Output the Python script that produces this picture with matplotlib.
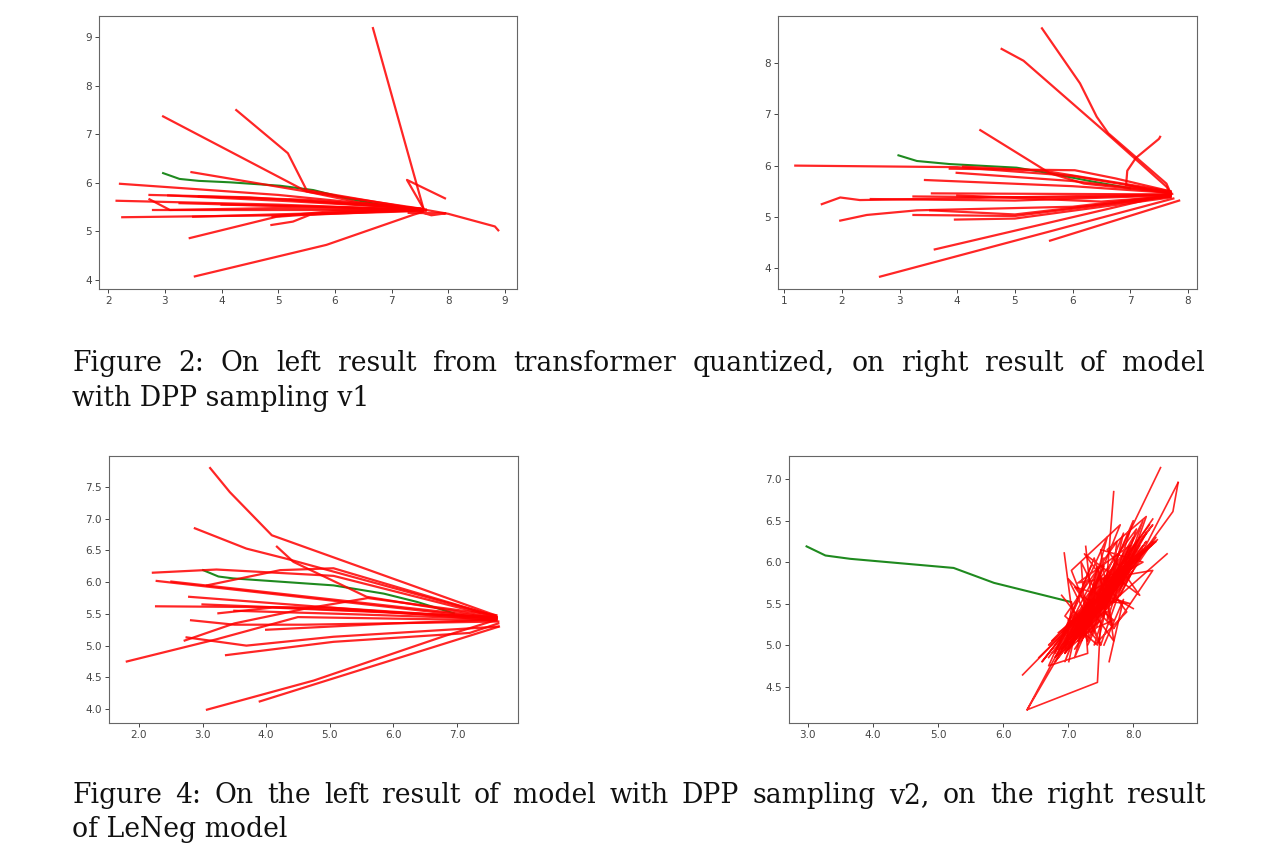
import matplotlib
matplotlib.use("Agg")
import matplotlib.pyplot as plt

W, H = 1280, 866

# ---------------- Panel 1: transformer quantized ----------------
p1_green_x = [2.97, 3.26, 3.6, 4.15, 5.03, 5.62, 6.20, 6.8, 7.38]
p1_green_y = [6.20, 6.08, 6.04, 6.01, 5.94, 5.85, 5.68, 5.55, 5.47]
p1_red_x = [
    [6.67, 7.56], [7.94, 7.27, 7.56], [7.61, 8.0, 8.82, 8.88],
    [7.3, 7.95, 7.7, 7.5], [3.53, 5.85, 7.38, 7.6], [3.44, 4.97, 6.2, 7.55],
    [4.88, 5.26, 5.56, 7.5], [2.97, 5.50, 6.4, 7.55], [4.26, 5.17, 5.50, 7.5],
    [3.47, 5.6, 7.5], [2.21, 5.0, 7.5], [2.15, 5.0, 7.55],
    [2.73, 3.09, 5.0, 7.5], [2.79, 7.6], [2.25, 5.0, 7.55],
    [3.50, 5.0, 7.5], [3.06, 5.2, 7.5], [2.73, 4.5, 7.55],
    [3.26, 5.8, 7.5], [4.9, 6.0, 7.5], [4.0, 6.0, 7.6],
    [5.2, 6.5, 7.5], [3.6, 5.5, 7.4],
]
p1_red_y = [
    [9.19, 5.47], [5.68, 6.06, 5.47], [5.44, 5.36, 5.10, 5.02],
    [5.38, 5.37, 5.33, 5.40], [4.07, 4.72, 5.34, 5.42], [4.86, 5.30, 5.40, 5.45],
    [5.13, 5.20, 5.34, 5.44], [7.37, 5.82, 5.6, 5.46], [7.50, 6.61, 5.85, 5.45],
    [6.22, 5.8, 5.47], [5.98, 5.75, 5.46], [5.63, 5.55, 5.44],
    [5.66, 5.44, 5.48, 5.45], [5.43, 5.43], [5.29, 5.33, 5.42],
    [5.30, 5.35, 5.43], [5.74, 5.62, 5.47], [5.75, 5.7, 5.46],
    [5.58, 5.5, 5.44], [5.30, 5.42, 5.43], [5.55, 5.5, 5.45],
    [5.65, 5.55, 5.45], [5.72, 5.65, 5.48],
]
p1_xticks = [2, 3, 4, 5, 6, 7, 8, 9]
p1_yticks = [4, 5, 6, 7, 8, 9]

# ---------------- Panel 2: DPP sampling v1 ----------------
p2_green_x = [2.98, 3.30, 3.87, 5.03, 5.61, 6.3, 7.0]
p2_green_y = [6.20, 6.09, 6.03, 5.96, 5.85, 5.70, 5.56]
p2_red_x = [
    [5.47, 6.13, 6.42, 6.62, 7.63, 7.7], [4.77, 5.15, 6.53, 7.63, 7.7],
    [7.52, 7.5, 7.1, 6.95, 6.93, 7.7], [4.40, 5.61, 6.2, 7.7],
    [1.19, 4.0, 6.0, 7.7], [3.87, 6.04, 6.75, 7.7], [3.44, 6.0, 7.7],
    [1.65, 1.97, 2.31, 3.3, 7.7], [1.97, 2.43, 3.30, 6.0, 7.7],
    [3.24, 5.0, 7.7], [3.96, 5.0, 7.7], [3.53, 5.0, 7.7],
    [3.61, 7.73], [2.66, 7.75], [5.61, 7.85], [3.56, 7.7],
    [3.24, 6.0, 7.7], [3.99, 6.0, 7.7], [4.10, 5.5, 7.7],
    [2.5, 5.0, 7.7], [4.0, 6.5, 7.7],
]
p2_red_y = [
    [8.67, 7.60, 6.95, 6.63, 5.65, 5.47], [8.27, 8.04, 6.69, 5.59, 5.46],
    [6.56, 6.52, 6.15, 5.9, 5.62, 5.45], [6.69, 5.85, 5.65, 5.47],
    [6.00, 5.97, 5.8, 5.48], [5.94, 5.91, 5.75, 5.5], [5.72, 5.6, 5.47],
    [5.25, 5.38, 5.33, 5.35, 5.44], [4.93, 5.04, 5.13, 5.2, 5.42],
    [5.04, 5.02, 5.4], [4.95, 4.97, 5.38], [5.13, 5.05, 5.4],
    [4.37, 5.45], [3.84, 5.36], [4.54, 5.32], [5.46, 5.44],
    [5.40, 5.38, 5.43], [5.86, 5.7, 5.48], [5.98, 5.9, 5.5],
    [5.35, 5.32, 5.42], [5.42, 5.3, 5.4],
]
p2_xticks = [1, 2, 3, 4, 5, 6, 7, 8]
p2_yticks = [4, 5, 6, 7, 8]

# ---------------- Panel 3: DPP sampling v2 ----------------
p3_green_x = [3.01, 3.25, 3.48, 5.06, 5.85, 6.37, 6.95]
p3_green_y = [6.19, 6.09, 6.06, 5.95, 5.82, 5.69, 5.51]
p3_red_x = [
    [3.12, 3.43, 4.09, 7.60], [2.88, 3.69, 4.32, 7.60], [4.17, 4.43, 5.58, 7.62],
    [2.22, 3.22, 5.06, 7.62], [3.07, 4.22, 5.06, 7.62], [2.28, 7.62],
    [2.51, 7.62], [2.79, 7.62], [2.27, 5.0, 7.62], [3.25, 4.1, 7.62],
    [2.82, 3.5, 4.6, 7.65], [2.72, 3.5, 4.6, 5.6, 7.62], [2.75, 3.69, 5.06, 7.65],
    [1.81, 3.22, 4.5, 7.62], [3.37, 5.06, 7.2, 7.65], [3.07, 4.75, 6.8, 7.6],
    [3.90, 7.66], [3.5, 5.2, 7.62], [4.0, 6.0, 7.62], [3.0, 5.5, 7.62],
]
p3_red_y = [
    [7.80, 7.42, 6.74, 5.48], [6.85, 6.53, 6.37, 5.47], [6.56, 6.32, 5.77, 5.44],
    [6.15, 6.20, 6.10, 5.45], [5.95, 6.19, 6.22, 5.46], [6.02, 5.42],
    [6.01, 5.44], [5.77, 5.40], [5.62, 5.60, 5.43], [5.51, 5.60, 5.45],
    [5.40, 5.33, 5.33, 5.38], [5.08, 5.35, 5.58, 5.75, 5.48], [5.13, 5.00, 5.14, 5.30],
    [4.75, 5.10, 5.45, 5.40], [4.85, 5.06, 5.20, 5.35], [3.99, 4.45, 5.15, 5.40],
    [4.12, 5.30], [5.55, 5.50, 5.42], [5.25, 5.35, 5.41], [5.65, 5.55, 5.44],
]
p3_xticks = [2, 3, 4, 5, 6, 7]
p3_yticks = [4.0, 4.5, 5.0, 5.5, 6.0, 6.5, 7.0, 7.5]

# ---------------- Panel 4: LeNeg ----------------
p4_green_x = [2.98, 3.27, 3.65, 5.24, 5.86, 7.04]
p4_green_y = [6.19, 6.08, 6.04, 5.93, 5.75, 5.52]
p4_red_x = [
    [7.05, 7.20, 7.62, 7.10, 7.85, 7.00, 7.45, 6.85, 7.95, 7.25, 7.70, 6.95, 7.55,
     7.15, 8.05, 7.30, 7.80, 6.90, 8.10, 7.40, 7.75, 7.05, 7.90, 7.20, 7.60, 6.80,
     7.50, 7.35, 8.20, 7.45, 7.95, 7.10, 7.65, 7.00, 7.85, 7.25, 8.00, 7.40, 7.70,
     6.95, 7.55, 7.15, 7.90, 7.30, 8.15, 7.50, 7.20, 7.80, 7.05, 7.65, 7.35, 8.05,
     7.25, 7.75, 6.90, 7.45, 7.85, 7.10, 7.60, 7.95, 7.30],
    [6.70, 7.35, 6.85, 7.50, 7.00, 7.65, 7.10, 7.80, 7.20, 7.95, 7.30, 8.10, 7.15,
     7.70, 6.95, 7.45, 6.80, 7.25, 7.05, 7.60, 7.40, 8.00, 7.55, 8.20, 7.35, 7.85,
     7.15, 7.55, 6.90, 7.30, 7.10, 7.75, 7.45, 8.05, 7.60, 8.15, 7.25, 7.65, 7.00,
     7.40, 6.75, 7.20, 7.50, 7.90, 7.35, 7.70, 7.05, 7.45],
    [6.60, 7.15, 6.95, 7.40, 7.10, 7.55, 6.85, 7.30, 7.20, 7.70, 7.45, 7.90, 7.60,
     8.05, 7.35, 7.80, 7.15, 7.50, 7.00, 7.35, 6.90, 7.25, 7.55, 7.95, 7.70, 8.10,
     7.45, 7.85, 7.25, 7.60, 7.10, 7.40, 6.80, 7.15, 7.35, 7.75, 7.50, 8.00, 7.30,
     7.65, 7.05, 7.45],
    [6.90, 7.50, 7.00, 7.70, 7.20, 7.30, 6.70, 7.60, 7.10, 8.00, 7.40, 7.90, 7.25,
     8.10, 7.60, 8.20, 7.50, 7.05, 7.80, 6.95, 7.45, 7.30, 7.95, 7.15, 8.30, 7.70,
     7.40, 7.00, 7.65, 6.85],
    [7.35, 6.80, 7.55, 7.20, 7.85, 7.45, 6.95, 7.75, 7.60, 8.05, 7.25, 7.95, 7.10,
     7.70, 7.50, 8.15, 7.35],
    [7.55, 8.25, 7.75, 8.30, 7.85, 8.20, 7.65, 8.10, 7.80, 8.35, 7.90, 8.15, 7.70],
    [7.10, 6.37, 7.45, 7.50, 7.00, 7.65, 6.90, 6.37],
    [6.30, 7.00, 6.60, 7.30, 6.75, 7.40],
    [6.94, 7.05, 6.95, 7.30], [7.27, 7.35, 7.45, 7.60], [7.70, 7.55],
    [8.42, 7.35], [8.69, 8.61, 8.00], [8.69, 7.80], [8.52, 7.65, 8.35, 7.50],
    [8.37, 7.60], [8.30, 7.40], [7.63, 7.85, 7.55], [8.00, 7.75, 8.00, 7.70],
    [7.01, 7.15, 7.30], [6.55, 7.20, 6.70, 7.25], [8.25, 7.60, 8.30, 7.70],
]
p4_red_y = [
    [5.52, 5.05, 5.85, 5.20, 6.05, 4.95, 5.60, 5.00, 6.20, 5.25, 5.75, 4.90, 5.70,
     5.35, 6.25, 5.00, 5.95, 5.15, 6.10, 5.35, 5.55, 5.10, 6.15, 5.45, 5.40, 4.85,
     5.80, 5.15, 6.35, 5.45, 5.85, 4.95, 5.65, 5.30, 5.90, 5.20, 6.30, 5.50, 5.30,
     5.05, 5.95, 5.15, 6.00, 5.40, 6.20, 5.55, 5.05, 6.05, 5.25, 5.90, 5.30, 6.15,
     5.10, 5.60, 4.95, 5.75, 6.00, 5.20, 5.50, 6.10, 5.45],
    [4.85, 5.55, 4.95, 5.70, 5.05, 5.85, 5.10, 5.95, 5.15, 6.10, 5.30, 6.20, 5.05,
     5.65, 4.90, 5.45, 4.80, 5.25, 5.00, 5.60, 5.35, 5.95, 5.50, 6.25, 5.25, 5.80,
     5.10, 5.40, 4.95, 5.30, 5.15, 5.75, 5.40, 6.05, 5.60, 6.15, 5.20, 5.55, 5.00,
     5.45, 4.90, 5.20, 5.50, 5.85, 5.35, 5.70, 5.05, 5.35],
    [4.80, 5.35, 5.00, 5.55, 5.20, 5.65, 4.90, 5.45, 5.15, 5.80, 5.40, 6.00, 5.55,
     6.15, 5.30, 5.85, 5.05, 5.50, 5.00, 5.25, 4.95, 5.35, 5.45, 5.90, 5.70, 6.05,
     5.45, 5.75, 5.20, 5.55, 5.10, 5.50, 4.85, 5.20, 5.30, 5.75, 5.50, 5.95, 5.25,
     5.65, 5.10, 5.40],
    [5.60, 5.00, 5.80, 5.20, 6.00, 4.90, 4.75, 6.30, 4.85, 6.50, 5.00, 5.40, 6.10,
     5.60, 6.15, 6.55, 5.00, 5.90, 6.45, 4.80, 5.85, 5.05, 6.20, 5.75, 5.90, 5.20,
     6.05, 5.25, 5.65, 5.15],
    [5.95, 4.90, 6.05, 5.10, 6.35, 5.00, 5.35, 6.25, 5.30, 6.40, 5.55, 5.50, 5.70,
     5.05, 6.15, 6.00, 5.65],
    [5.60, 6.40, 5.90, 6.45, 6.00, 6.15, 5.75, 6.30, 5.85, 6.25, 5.95, 6.50, 5.80],
    [5.20, 4.22, 4.55, 5.30, 4.95, 5.60, 5.00, 4.22],
    [4.64, 5.20, 4.80, 5.50, 5.05, 5.55],
    [6.11, 5.45, 4.90, 5.40], [6.19, 5.60, 5.95, 5.50], [6.85, 5.35],
    [7.14, 5.40], [6.96, 6.61, 5.95], [6.96, 5.60], [6.10, 5.50, 6.30, 5.45],
    [6.27, 5.70], [6.52, 5.50], [4.80, 5.55, 5.00], [5.44, 5.55, 5.90, 5.65],
    [4.80, 5.30, 5.05], [4.85, 5.35, 5.00, 5.40], [6.45, 5.75, 6.25, 5.85],
]
p4_xticks = [3, 4, 5, 6, 7, 8]
p4_yticks = [4.5, 5.0, 5.5, 6.0, 6.5, 7.0]

caption2_line1 = "Figure 2: On left result from transformer quantized, on right result of model"
caption2_line2 = "with DPP sampling v1"
caption4_line1 = "Figure 4: On the left result of model with DPP sampling v2, on the right result"
caption4_line2 = "of LeNeg model"

# ---------------- Drawing ----------------
fig = plt.figure(figsize=(W / 100, H / 100), dpi=100)
fig.patch.set_facecolor("white")


def box(l, t, r, b):
    return [l / W, 1 - b / H, (r - l) / W, (b - t) / H]


panels = [
    (box(99, 16, 517, 289), (1.84, 9.21), (3.81, 9.44), p1_xticks, p1_yticks,
     p1_red_x, p1_red_y, p1_green_x, p1_green_y, 1.6, "{:g}"),
    (box(778, 16, 1197, 289), (0.89, 8.16), (3.60, 8.91), p2_xticks, p2_yticks,
     p2_red_x, p2_red_y, p2_green_x, p2_green_y, 1.6, "{:g}"),
    (box(109, 456, 518, 723), (1.53, 7.96), (3.78, 7.99), p3_xticks, p3_yticks,
     p3_red_x, p3_red_y, p3_green_x, p3_green_y, 1.6, "{:.1f}"),
    (box(789, 456, 1197, 723), (2.71, 8.98), (4.06, 7.28), p4_xticks, p4_yticks,
     p4_red_x, p4_red_y, p4_green_x, p4_green_y, 1.2, "{:.1f}"),
]

for rect, xl, yl, xt, yt, rx, ry, gx, gy, lw, fmt in panels:
    ax = fig.add_axes(rect)
    ax.plot(gx, gy, color="#1f8a1f", lw=1.5, zorder=2)
    for xs, ys in zip(rx, ry):
        ax.plot(xs, ys, color="#ff0000", lw=lw, alpha=0.85, zorder=3,
                solid_joinstyle="round")
    ax.set_xlim(*xl)
    ax.set_ylim(*yl)
    ax.set_xticks(xt)
    ax.set_yticks(yt)
    ax.set_xticklabels([fmt.format(v) for v in xt])
    ax.set_yticklabels([fmt.format(v) for v in yt])
    ax.tick_params(labelsize=7.5, colors="#444444", length=3, width=0.7, pad=2)
    for s in ax.spines.values():
        s.set_color("#666666")
        s.set_linewidth(0.8)

# ---------------- Captions ----------------
renderer = fig.canvas.get_renderer()
probe = fig.text(0, 0, caption4_line2, fontsize=20, family="DejaVu Serif")
pw = probe.get_window_extent(renderer).width
probe.remove()
fs = 20 * 215 / pw


def justified(line, x0, x1, yb):
    words = line.split(" ")
    ts = [fig.text(0, 0, w, fontsize=fs, family="DejaVu Serif", color="#111111",
                   va="baseline") for w in words]
    ws = [t.get_window_extent(renderer).width for t in ts]
    gap = (x1 - x0 - sum(ws)) / (len(words) - 1)
    x = x0
    for t, w in zip(ts, ws):
        t.set_position((x / W, 1 - yb / H))
        x += w + gap


def plain(line, x0, yb):
    fig.text(x0 / W, 1 - yb / H, line, fontsize=fs, family="DejaVu Serif",
             color="#111111", va="baseline")


justified(caption2_line1, 72, 1205, 371)
plain(caption2_line2, 72, 406)
justified(caption4_line1, 72, 1205, 803)
plain(caption4_line2, 72, 837)

fig.savefig("out.png", dpi=100, facecolor="white")
